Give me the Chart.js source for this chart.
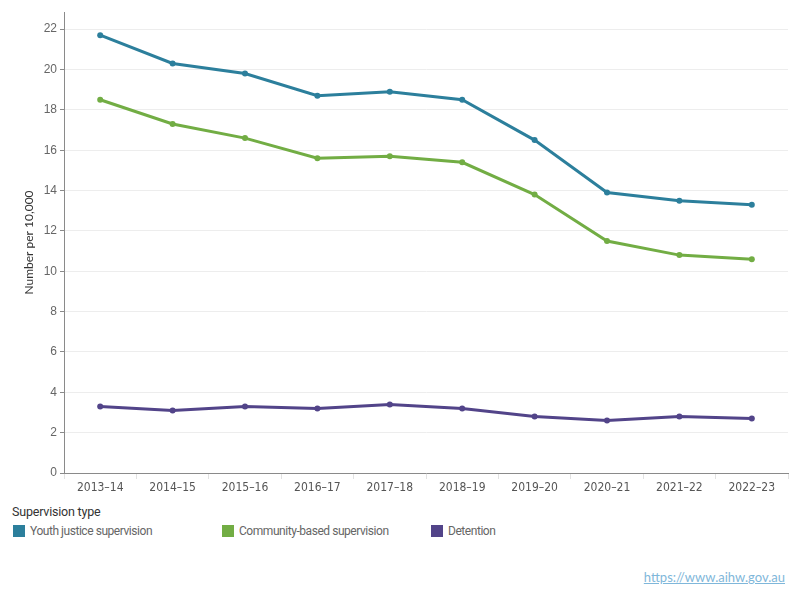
<!DOCTYPE html>
<html>
<head>
<meta charset="utf-8">
<script src="https://cdn.jsdelivr.net/npm/chart.js@4.4.0/dist/chart.umd.min.js"></script>
<style>
  body { margin: 0; background: #fff; width: 800px; height: 600px; position: relative; overflow: hidden; }
  #wrap { position: absolute; left: 0; top: 0; width: 800px; height: 500px; }
  #legend { position: absolute; left: 12px; top: 504px; font-family: Roboto, Lato, sans-serif; color: #666; }
  #legend .titulo { font-size: 12.5px; color: #333; margin-bottom: 3px; letter-spacing: -0.2px; }
  #legend .item { position: absolute; top: 20px; white-space: nowrap; font-size: 12px; letter-spacing: -0.45px; }
  #legend .cor { display: inline-block; width: 12px; height: 12px; vertical-align: -2px; margin-right: 5px; }
  #fonte { position: absolute; right: 15px; top: 569px; font-family: Lato, "Noto Sans", sans-serif; font-size: 13px; color: #7fb7da; text-decoration: underline; }
</style>
</head>
<body>
<div id="wrap"><canvas id="grafico"></canvas></div>
<div id="legend">
  <div class="titulo">Supervision type</div>
</div>
<div id="fonte">https://www.aihw.gov.au</div>
<script>
  const anos = ["2013–14", "2014–15", "2015–16", "2016–17", "2017–18", "2018–19", "2019–20", "2020–21", "2021–22", "2022–23"]
  const youth_justice = [21.7, 20.3, 19.8, 18.7, 18.9, 18.5, 16.5, 13.9, 13.5, 13.3]
  const community = [18.5, 17.3, 16.6, 15.6, 15.7, 15.4, 13.8, 11.5, 10.8, 10.6]
  const detention = [3.3, 3.1, 3.3, 3.2, 3.4, 3.2, 2.8, 2.6, 2.8, 2.7]
  const ticks_y = [0, 2, 4, 6, 8, 10, 12, 14, 16, 18, 20, 22]

  const series = [
    { label: "Youth justice supervision", data: youth_justice, cor: "#2c7f9c", x: 1 },
    { label: "Community-based supervision", data: community, cor: "#72ad44", x: 210 },
    { label: "Detention", data: detention, cor: "#524489", x: 419 }
  ]

  const legend = document.getElementById("legend")
  series.forEach(s => {
    const item = document.createElement("div")
    item.className = "item"
    item.style.left = `${s.x}px`
    item.innerHTML = `<span class="cor" style="background:${s.cor}"></span>${s.label}`
    legend.appendChild(item)
  })

  const fonte_eixo = "'Liberation Sans Narrow', 'DejaVu Sans Condensed', sans-serif"

  new Chart(document.getElementById("grafico"), {
    type: "line",
    data: {
      labels: anos,
      datasets: series.map(s => ({
        label: s.label,
        data: s.data,
        borderColor: s.cor,
        backgroundColor: s.cor,
        borderWidth: 3,
        pointRadius: 3,
        pointBorderWidth: 0,
        tension: 0
      }))
    },
    options: {
      responsive: true,
      maintainAspectRatio: false,
      animation: false,
      layout: { padding: { top: 12, right: 12, left: 0, bottom: 0 } },
      plugins: {
        legend: { display: false },
        tooltip: { enabled: false }
      },
      scales: {
        x: {
          offset: true,
          afterFit: scale => { scale.height = 27 },
          grid: { drawOnChartArea: false, offset: true, tickLength: 6, tickColor: "#e2e2e2" },
          border: { color: "#8a8a8a", width: 1 },
          ticks: { color: "#555", font: { family: fonte_eixo, size: 12 }, padding: 2, maxRotation: 0, autoSkip: false }
        },
        y: {
          min: 0,
          max: 22.85,
          afterFit: scale => { scale.width = 64 },
          afterBuildTicks: scale => { scale.ticks = ticks_y.map(v => ({ value: v })) },
          grid: { color: "#ededed", tickColor: "#8a8a8a", tickLength: 4 },
          border: { color: "#8a8a8a", width: 1 },
          ticks: { color: "#666", font: { family: "'Liberation Sans', Arial, sans-serif", size: 12 }, padding: 3 },
          title: {
            display: true,
            text: "Number per 10,000",
            color: "#333",
            font: { family: "Lato, 'Noto Sans', sans-serif", size: 12 },
            padding: { top: 22, bottom: 0 }
          }
        }
      }
    }
  })
</script>
</body>
</html>
